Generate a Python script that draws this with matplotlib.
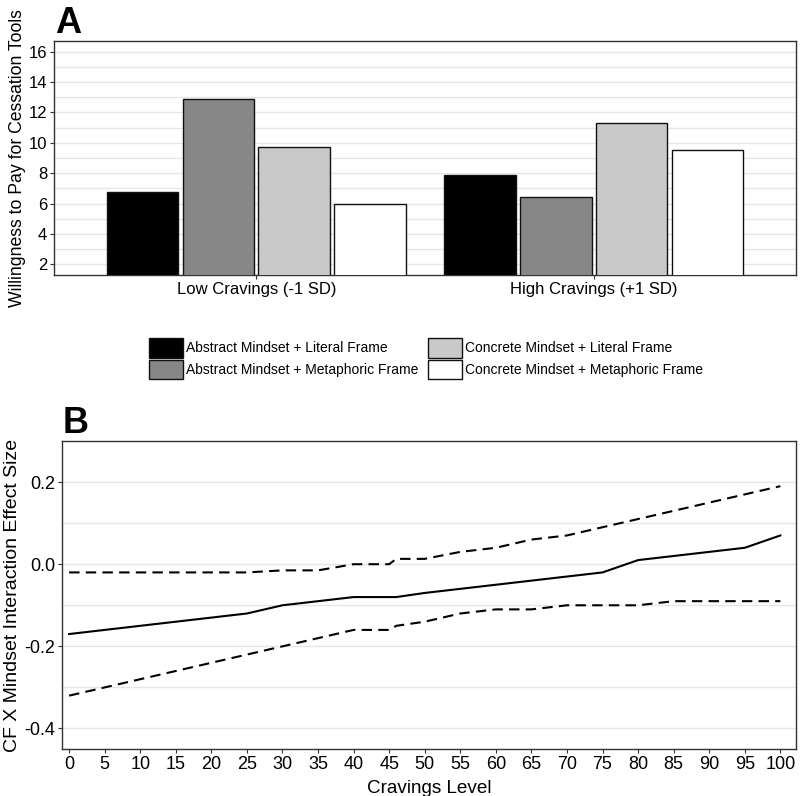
import matplotlib
matplotlib.use('Agg')
import matplotlib.pyplot as plt
from matplotlib import font_manager
from matplotlib.patches import Patch
from matplotlib.ticker import MultipleLocator
import numpy as np

plt.rcParams['font.family'] = ['Liberation Sans', 'DejaVu Sans']

# Panel A data
groups = ['Low Cravings (-1 SD)', 'High Cravings (+1 SD)']
conditions = ['Abstract Mindset + Literal Frame',
              'Abstract Mindset + Metaphoric Frame',
              'Concrete Mindset + Literal Frame',
              'Concrete Mindset + Metaphoric Frame']
wtp = {
    'Abstract Mindset + Literal Frame': [6.75, 7.9],
    'Abstract Mindset + Metaphoric Frame': [12.9, 6.45],
    'Concrete Mindset + Literal Frame': [9.75, 11.32],
    'Concrete Mindset + Metaphoric Frame': [6.0, 9.5],
}
fills = ['#000000', '#878787', '#c9c9c9', '#ffffff']

# Panel B data
cravings = [0, 5, 10, 15, 20, 25, 30, 35, 40, 45, 46, 50, 55, 60, 65, 70, 75, 80, 85, 90, 95, 100]
effect = [-0.17, -0.16, -0.15, -0.14, -0.13, -0.12, -0.10, -0.09, -0.08, -0.08, -0.08, -0.07,
          -0.06, -0.05, -0.04, -0.03, -0.02, 0.01, 0.02, 0.03, 0.04, 0.07]
upper = [-0.02, -0.02, -0.02, -0.02, -0.02, -0.02, -0.015, -0.015, 0.0, 0.0, 0.013, 0.013,
         0.03, 0.04, 0.06, 0.07, 0.09, 0.11, 0.13, 0.15, 0.17, 0.19]
lower = [-0.32, -0.30, -0.28, -0.26, -0.24, -0.22, -0.20, -0.18, -0.16, -0.16, -0.15, -0.14,
         -0.12, -0.11, -0.11, -0.10, -0.10, -0.10, -0.09, -0.09, -0.09, -0.09]

frame_col = '#333333'
grid_col = '#e6e6e6'

# legend text in the original is a condensed font
names = {f.name for f in font_manager.fontManager.ttflist}
if 'Liberation Sans Narrow' in names:
    leg_font = {'family': 'Liberation Sans Narrow', 'size': 12}
else:
    leg_font = {'family': 'Liberation Sans', 'size': 10}

fig = plt.figure(figsize=(8, 7.96), dpi=100)

# ---- Panel A ----
axA = fig.add_axes([0.0675, 0.6545, 0.9275, 0.294])
x = np.arange(len(groups)) + 1
offsets = [-0.3375, -0.1125, 0.1125, 0.3375]
for i, c in enumerate(conditions):
    axA.bar(x + offsets[i], wtp[c], width=0.213, color=fills[i],
            edgecolor='#111111', linewidth=1.0, zorder=3)
axA.set_xlim(0.4, 2.6)
axA.set_ylim(1.3, 16.7)
axA.set_xticks(x)
axA.set_xticklabels(groups)
axA.yaxis.set_major_locator(MultipleLocator(2))
axA.yaxis.set_minor_locator(MultipleLocator(1))
axA.grid(axis='y', which='both', color=grid_col, linewidth=1.0, zorder=0)
axA.set_ylabel('Willingness to Pay for Cessation Tools', fontsize=12.7, labelpad=2)
axA.tick_params(axis='both', labelsize=12, length=3, color=frame_col, pad=2)
axA.tick_params(axis='y', which='minor', length=0)
for s in axA.spines.values():
    s.set_color(frame_col)
    s.set_linewidth(1.0)
fig.text(55 / 800, 1 - 33 / 796, 'A', fontsize=26, fontweight='bold')

# legend
handles = [Patch(facecolor=fills[i], edgecolor='#111111', linewidth=1.0) for i in range(4)]
fs_px = leg_font['size'] * 100 / 72
fig.legend(handles, conditions, ncol=2, loc='center',
           bbox_to_anchor=(426 / 800, 1 - 358.5 / 796), frameon=False,
           prop=leg_font, handlelength=34 / fs_px, handleheight=25 / fs_px,
           handletextpad=3 / fs_px, labelspacing=2 / fs_px,
           columnspacing=10 / fs_px, borderpad=0)

# ---- Panel B ----
axB = fig.add_axes([0.0775, 0.059, 0.9175, 0.387])
axB.plot(cravings, effect, color='black', linewidth=1.5, zorder=3)
axB.plot(cravings, upper, color='black', linewidth=1.5, dashes=(5, 3), zorder=3)
axB.plot(cravings, lower, color='black', linewidth=1.5, dashes=(5, 3), zorder=3)
axB.set_xlim(-1.0, 102.2)
axB.set_ylim(-0.45, 0.3)
axB.set_xticks(np.arange(0, 101, 5))
axB.set_yticks([-0.4, -0.2, 0.0, 0.2])
axB.set_yticklabels(['-0.4', '-0.2', '0.0', '0.2'])
axB.yaxis.set_minor_locator(MultipleLocator(0.1))
axB.grid(axis='y', which='both', color=grid_col, linewidth=1.0, zorder=0)
axB.set_xlabel('Cravings Level', fontsize=13.6, labelpad=5)
axB.set_ylabel('CF X Mindset Interaction Effect Size', fontsize=14, labelpad=2)
axB.tick_params(axis='both', labelsize=13, length=3, color=frame_col, pad=2)
axB.tick_params(axis='y', which='minor', length=0)
for s in axB.spines.values():
    s.set_color(frame_col)
    s.set_linewidth(1.0)
fig.text(63 / 800, 1 - 433 / 796, 'B', fontsize=26, fontweight='bold')

fig.savefig('out.png', dpi=100)
